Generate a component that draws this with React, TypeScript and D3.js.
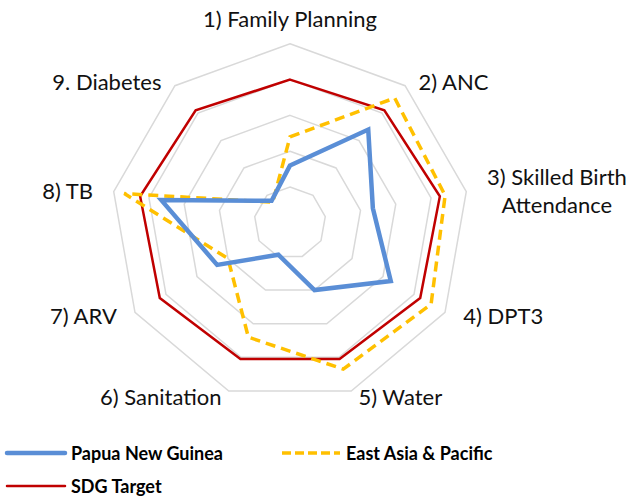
import * as d3 from "d3";
import { useEffect, useRef } from "react";

const categories = [
  "1) Family Planning",
  "2) ANC",
  "3) Skilled Birth\nAttendance",
  "4) DPT3",
  "5) Water",
  "6) Sanitation",
  "7) ARV",
  "8) TB",
  "9. Diabetes"
];

const papuaNewGuinea = [32, 68, 47, 65, 40, 19, 47, 73, 16];
const eastAsiaPacific = [48, 91, 88, 91, 87, 68, 40, 94, 15];
const sdgTarget = [80, 82, 85, 84, 81, 81, 84, 85, 82];

const ringTicks = [20, 40, 60, 80, 100];

const series = [
  { name: "Papua New Guinea", values: papuaNewGuinea, color: "#5A8ED6", width: 4.5, dash: null },
  { name: "East Asia & Pacific", values: eastAsiaPacific, color: "#FFC000", width: 3.5, dash: "10,6" },
  { name: "SDG Target", values: sdgTarget, color: "#C00000", width: 2.5, dash: null }
];

const W = 630;
const H = 496;

export default function App() {
  const ref = useRef<SVGSVGElement | null>(null);

  useEffect(() => {
    if (!ref.current) return;
    const svg = d3.select(ref.current);
    svg.selectAll("*").remove();

    const cx = 290;
    const cy = 222.8;
    const R = 179;
    const n = categories.length;

    const r = d3.scaleLinear().domain([0, 100]).range([0, R]);
    const angle = d3.scaleLinear().domain([0, n]).range([-Math.PI / 2, 1.5 * Math.PI]);

    const g = svg.append("g").attr("transform", `translate(${cx},${cy})`);

    const line = d3.lineRadial<number>()
      .angle((_, i) => angle(i) + Math.PI / 2)
      .radius(d => r(d))
      .curve(d3.curveLinearClosed);

    // grid rings
    g.selectAll("path.ring")
      .data(ringTicks)
      .enter()
      .append("path")
      .attr("class", "ring")
      .attr("d", t => line(categories.map(() => t)))
      .attr("fill", "none")
      .attr("stroke", "#D9D9D9")
      .attr("stroke-width", 1.5);

    // series, target first so it sits underneath
    const order = [series[2], series[1], series[0]];
    g.selectAll("path.series")
      .data(order)
      .enter()
      .append("path")
      .attr("class", "series")
      .attr("d", s => line(s.values))
      .attr("fill", "none")
      .attr("stroke", s => s.color)
      .attr("stroke-width", s => s.width)
      .attr("stroke-dasharray", s => s.dash)
      .attr("stroke-linejoin", "miter");

    // axis labels
    const fontSize = 22;
    const lineH = 28;
    categories.forEach((cat, i) => {
      const a = angle(i);
      const cos = Math.cos(a);
      const sin = Math.sin(a);
      const vx = r(100) * cos;
      const vy = r(100) * sin;
      const lines = cat.split("\n");
      const t = g.append("text")
        .attr("font-family", "Lato, 'Open Sans', sans-serif")
        .attr("font-size", fontSize)
        .attr("fill", "#111");

      if (Math.abs(cos) < 0.1) {
        t.attr("text-anchor", "middle")
          .attr("x", vx)
          .attr("y", vy - 17)
          .text(cat);
        return;
      }

      const edgeX = vx + 21 * cos;
      const midY = vy + 6 * sin;
      const spans = lines.map((l, k) =>
        t.append("tspan")
          .attr("dominant-baseline", "central")
          .attr("y", midY + (k - (lines.length - 1) / 2) * lineH)
          .text(l)
      );
      if (lines.length === 1) {
        t.attr("text-anchor", cos > 0 ? "start" : "end");
        spans[0].attr("x", edgeX);
      } else {
        const maxW = d3.max(spans, s => (s.node() as SVGTSpanElement).getComputedTextLength()) || 0;
        t.attr("text-anchor", "middle");
        const mid = cos > 0 ? edgeX + maxW / 2 : edgeX - maxW / 2;
        spans.forEach(s => s.attr("x", mid));
      }
    });

    // legend
    const legendPos = [
      { x: 7, y: 453 },
      { x: 282, y: 453 },
      { x: 7, y: 486 }
    ];
    series.forEach((s, i) => {
      const p = legendPos[i];
      const lg = svg.append("g").attr("transform", `translate(${p.x},${p.y})`);
      lg.append("line")
        .attr("x1", 0)
        .attr("x2", 58)
        .attr("stroke", s.color)
        .attr("stroke-width", s.width)
        .attr("stroke-dasharray", s.dash ? "9,4" : null)
        .attr("stroke-linecap", s.dash ? "butt" : "round");
      lg.append("text")
        .attr("x", 64)
        .attr("dominant-baseline", "central")
        .attr("font-family", "Lato, 'Open Sans', sans-serif")
        .attr("font-weight", "bold")
        .attr("font-size", 18)
        .attr("fill", "#000")
        .text(s.name);
    });
  }, []);

  return (
    <svg
      ref={ref}
      width={W}
      height={H}
      style={{ position: "absolute", left: 0, top: 0, background: "#fff" }}
    />
  );
}
